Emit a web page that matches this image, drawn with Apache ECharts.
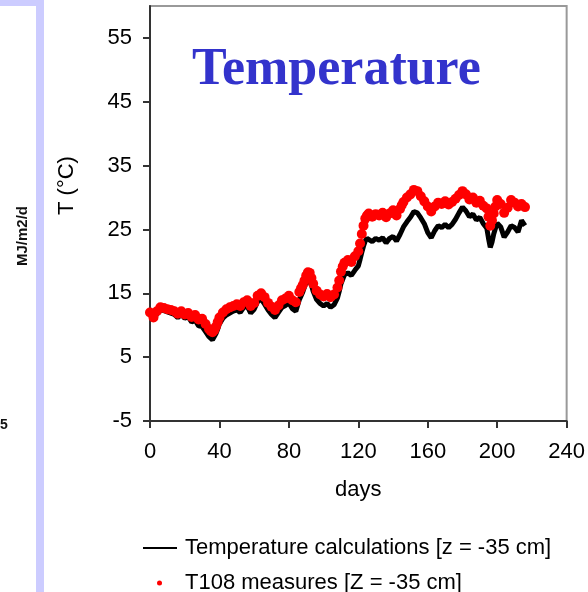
<!DOCTYPE html>
<html>
<head>
<meta charset="utf-8">
<script src="https://cdn.jsdelivr.net/npm/echarts@6/dist/echarts.min.js"></script>
<style>
html,body{margin:0;padding:0;background:#fff;}
#chart{width:588px;height:592px;}
</style>
</head>
<body>
<div id="chart"></div>
<script>
const days = [0,2,4,6,8,10,12,14,16,18,20,22,24,26,28,30,32,34,35,36,37,38,39,40,42,44,46,48,50,52,54,56,58,60,62,64,66,68,70,72,74,76,78,80,82,84,86,87,88,89,90,91,92,93,94,96,98,100,102,104,106,108,109,110,111,112,114,116,118,120,121,122,123,124,125,126,128,130,132,134,136,138,140,142,144,145,146,148,150,152,154,156,158,160,162,164,166,168,170,172,174,176,178,180,182,184,186,188,190,192,194,195,196,197,198,199,200,202,204,206,208,210,212,214,216];

const measured = [12.0,11.2,12.2,12.8,12.7,12.5,12.4,12.2,11.8,12.2,11.7,11.9,11.3,11.6,10.9,11.0,10.2,9.4,9.1,8.9,9.2,9.8,10.5,11.2,12.0,12.5,12.8,13.0,13.3,13.0,13.6,13.9,13.0,13.5,14.6,15.0,14.4,13.5,12.9,12.4,13.1,13.9,14.2,14.6,13.9,13.6,15.2,15.8,16.3,17.0,17.8,18.3,18.2,17.4,16.5,15.4,14.8,14.5,14.9,14.4,14.8,15.9,17.0,18.4,19.2,19.8,20.2,19.9,20.8,21.6,22.8,24.3,25.6,26.7,27.2,27.5,27.0,27.4,27.2,27.6,26.9,27.5,28.0,27.2,28.2,28.8,29.3,30.0,30.5,31.2,31.0,30.2,29.4,28.6,27.8,28.6,29.2,29.0,29.4,28.9,29.3,29.8,30.4,31.0,30.5,29.7,30.0,29.2,29.5,28.7,28.3,27.0,25.6,26.4,27.5,28.6,29.6,29.0,27.6,28.4,29.6,29.2,28.6,29.0,28.5];

const calculated = [11.8,10.8,11.8,12.4,12.3,12.1,11.9,11.7,11.2,11.7,11.1,11.3,10.5,10.8,9.9,9.8,9.0,8.2,7.9,7.7,8.0,8.7,9.4,10.2,11.1,11.6,11.9,12.2,12.4,12.0,12.8,13.0,11.9,12.5,13.7,14.1,13.3,12.4,11.7,11.2,12.0,12.8,13.1,13.5,12.6,12.2,14.0,14.6,15.2,16.0,16.8,17.3,17.2,16.3,15.3,14.0,13.4,13.0,13.4,12.8,13.2,14.3,15.3,16.5,17.2,17.9,18.2,17.8,18.6,19.3,20.3,21.4,22.4,23.2,23.6,23.8,23.1,23.6,23.3,23.7,22.9,23.6,23.9,23.2,24.2,24.8,25.4,26.2,26.9,27.8,27.6,26.8,25.9,24.5,23.7,24.8,25.6,25.3,25.8,25.3,25.8,26.6,27.6,28.5,27.9,27.0,27.4,26.5,26.9,25.9,25.2,23.6,22.2,23.0,24.3,25.2,26.0,25.4,23.8,24.6,25.6,25.3,24.6,26.4,25.6];

const yTickValues = [-5,5,15,25,35,45,55];
const xTickValues = [0,40,80,120,160,200,240];

const calcName = 'Temperature calculations [z = -35 cm]';
const measName = 'T108 measures [Z = -35 cm]';

const chart = echarts.init(document.getElementById('chart'), null, {renderer:'canvas'});
const font = 'Liberation Sans, Arial, sans-serif';

chart.setOption({
  animation:false,
  backgroundColor:'#ffffff',
  title:{
    text:'Temperature',
    left:187, top:40,
    textStyle:{fontFamily:'Liberation Serif, Times New Roman, serif', fontWeight:'bold', fontSize:52, color:'#3333CC'}
  },
  grid:{left:150, right:20, top:6, bottom:171, show:true, borderColor:'#999', borderWidth:2, backgroundColor:'transparent'},
  xAxis:{
    type:'value', min:0, max:240, interval:40,
    name:'days', nameLocation:'middle', nameGap:58,
    nameTextStyle:{fontFamily:font, fontSize:22, color:'#000'},
    axisLine:{show:true, onZero:false, lineStyle:{color:'#333', width:2}},
    axisTick:{show:true, inside:false, length:7, lineStyle:{color:'#333', width:2}, customValues:xTickValues},
    axisLabel:{fontFamily:font, fontSize:22, color:'#000', margin:20, customValues:xTickValues},
    splitLine:{show:false}
  },
  yAxis:{
    type:'value', min:-5, max:60,
    name:'T (°C)', nameLocation:'middle', nameGap:72, nameRotate:90,
    nameTextStyle:{fontFamily:font, fontSize:22, color:'#000', padding:[0,0,0,56]},
    axisLine:{show:true, onZero:false, lineStyle:{color:'#333', width:2}},
    axisTick:{show:true, inside:false, length:7, lineStyle:{color:'#333', width:2}, customValues:yTickValues},
    axisLabel:{fontFamily:font, fontSize:22, color:'#000', margin:18, customValues:yTickValues},
    splitLine:{show:false}
  },
  legend:[
    {
      data:[{name:calcName, icon:'rect'}],
      left:138, top:532, orient:'vertical',
      itemWidth:34, itemHeight:2, itemGap:0,
      textStyle:{fontFamily:font, fontSize:22, color:'#000', padding:[0,0,0,3]}
    },
    {
      data:[{name:measName, icon:'circle'}],
      left:152, top:567, orient:'vertical',
      itemWidth:5, itemHeight:5,
      textStyle:{fontFamily:font, fontSize:22, color:'#000', padding:[0,0,0,18]}
    }
  ],
  graphic:[
    {type:'rect', shape:{x:0, y:0, width:44, height:6}, style:{fill:'#CCCCFF'}, silent:true},
    {type:'rect', shape:{x:36, y:0, width:8, height:592}, style:{fill:'#CCCCFF'}, silent:true},
    {type:'text', x:23, y:236, rotation:Math.PI/2, style:{text:'MJ/m2/d', fontFamily:font, fontWeight:'bold', fontSize:15, fill:'#111', align:'center', verticalAlign:'middle'}, silent:true},
    {type:'text', x:0, y:418, style:{text:'5', fontFamily:font, fontWeight:'bold', fontSize:14, fill:'#111'}, silent:true}
  ],
  series:[
    {
      name:calcName, type:'line', showSymbol:false, symbol:'none',
      data:days.map((d,i)=>[d, calculated[i]]),
      lineStyle:{color:'#000', width:5},
      itemStyle:{color:'#000'},
      z:2
    },
    {
      name:measName, type:'scatter', symbol:'circle', symbolSize:10,
      data:days.map((d,i)=>[d, measured[i]]),
      itemStyle:{color:'#ff0000', opacity:1},
      z:3
    }
  ]
});
</script>
</body>
</html>
